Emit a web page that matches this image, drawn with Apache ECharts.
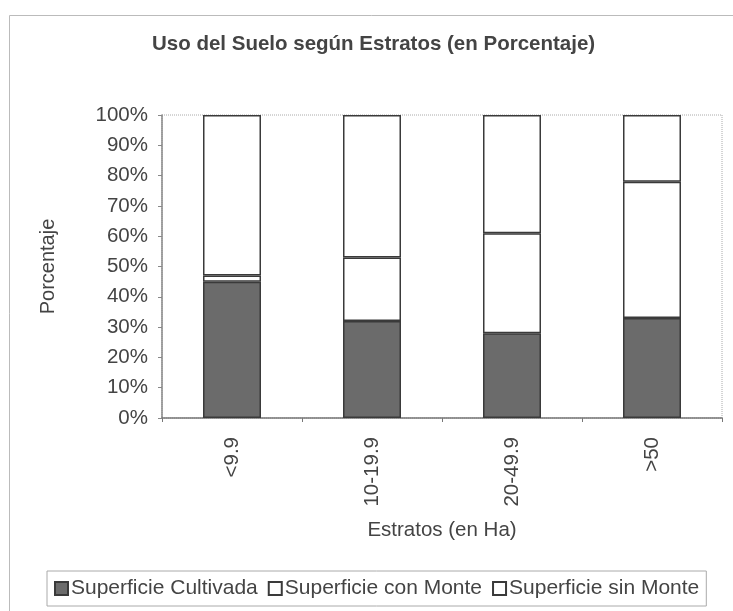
<!DOCTYPE html>
<html>
<head>
<meta charset="utf-8">
<script src="https://cdn.jsdelivr.net/npm/echarts@6/dist/echarts.min.js"></script>
<style>
  html, body { margin: 0; padding: 0; background: #fff; }
  #chart { width: 733px; height: 611px; }
</style>
</head>
<body>
<div id="chart"></div>
<script>
// datos
const estratos = ['<9.9', '10-19.9', '20-49.9', '>50']
const cultivada = [45, 32, 28, 33]
const conMonte = [2, 21, 33, 45]
const sinMonte = [53, 47, 39, 22]
const serieNames = ['Superficie Cultivada', 'Superficie con Monte', 'Superficie sin Monte']

const txt = '#444'
const font = 'Liberation Sans, Arial, sans-serif'

const chart = echarts.init(document.getElementById('chart'))

const barStyle = (fill) => ({
  color: fill,
  borderColor: '#3a3a3a',
  borderWidth: 1.5,
})

chart.setOption({
  animation: false,
  graphic: [
    {
      type: 'rect',
      shape: { x: 9.5, y: 15.5, width: 760, height: 640 },
      style: { fill: 'none', stroke: '#bbb', lineWidth: 1 },
      silent: true,
    },
  ],
  title: {
    text: 'Uso del Suelo según Estratos (en Porcentaje)',
    left: 152,
    top: 34,
    padding: 0,
    textStyle: { color: txt, fontFamily: font, fontSize: 20.5, fontWeight: 'bold' },
  },
  legend: {
    data: serieNames,
    left: 47,
    top: 571,
    orient: 'horizontal',
    icon: 'rect',
    itemWidth: 13,
    itemHeight: 13,
    itemGap: 10,
    padding: [7, 7, 7, 7],
    borderColor: '#aaa',
    borderWidth: 1,
    textStyle: { color: txt, fontFamily: font, fontSize: 21, padding: [0, 0, 0, -2] },
  },
  grid: {
    left: 162,
    right: 11,
    top: 115,
    bottom: 193,
    show: true,
    borderColor: '#aaa',
    borderWidth: 1,
    borderType: 'dotted',
  },
  xAxis: {
    type: 'category',
    data: estratos,
    name: 'Estratos (en Ha)',
    nameLocation: 'middle',
    nameGap: 102,
    nameTextStyle: { color: txt, fontFamily: font, fontSize: 20.5 },
    axisLine: { lineStyle: { color: '#777', width: 1.5 } },
    axisTick: { show: true, length: 4, lineStyle: { color: '#777' } },
    axisLabel: { rotate: 90, margin: 19, color: txt, fontFamily: font, fontSize: 20.5 },
    splitLine: { show: false },
  },
  yAxis: {
    type: 'value',
    min: 0,
    max: 100,
    interval: 10,
    name: 'Porcentaje',
    nameLocation: 'middle',
    nameGap: 104,
    nameTextStyle: { color: txt, fontFamily: font, fontSize: 20 },
    axisLine: { show: true, lineStyle: { color: '#888', width: 1.5 } },
    axisTick: { show: true, length: 4, lineStyle: { color: '#888' } },
    axisLabel: { formatter: '{value}%', margin: 14, color: txt, fontFamily: font, fontSize: 20.5 },
    splitLine: { show: false },
  },
  series: [
    {
      name: serieNames[0],
      type: 'bar',
      stack: 'total',
      barWidth: 58,
      data: cultivada,
      itemStyle: barStyle('#6b6b6b'),
    },
    {
      name: serieNames[1],
      type: 'bar',
      stack: 'total',
      barWidth: 58,
      data: conMonte,
      itemStyle: barStyle('#ffffff'),
    },
    {
      name: serieNames[2],
      type: 'bar',
      stack: 'total',
      barWidth: 58,
      data: sinMonte,
      itemStyle: barStyle('#ffffff'),
    },
  ],
})
</script>
</body>
</html>
